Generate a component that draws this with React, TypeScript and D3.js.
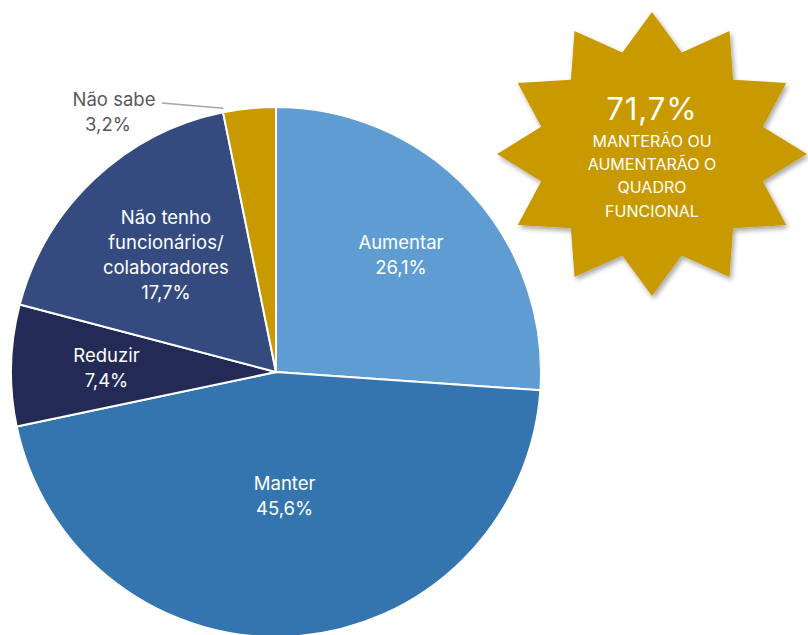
import React from "react";
import * as d3 from "d3";

const categories = ["Aumentar", "Manter", "Reduzir", "Não tenho funcionários/ colaboradores", "Não sabe"];
const labelLines = [["Aumentar"], ["Manter"], ["Reduzir"], ["Não tenho", "funcionários/", "colaboradores"], ["Não sabe"]];
const values = [26.1, 45.6, 7.4, 17.7, 3.2];
const colors = ["#5F9CD1", "#3475B0", "#232A55", "#354B80", "#C99A00"];
const starValue = "71,7%";
const starLines = ["MANTERÃO OU", "AUMENTARÃO O", "QUADRO", "FUNCIONAL"];

const W = 808;
const H = 635;
const FONT = "Inter, 'Open Sans', sans-serif";

const fmt = (v: number) => v.toFixed(1).replace(".", ",") + "%";

export default function App() {
  const cx = 276;
  const cy = 372;
  const R = 265;
  const pie = d3.pie<number>().sort(null).value((d) => d).startAngle(0).endAngle(2 * Math.PI);
  const arcs = pie(values);
  const arc = d3.arc<d3.PieArcDatum<number>>().innerRadius(0).outerRadius(R);
  const labelFactor = [0.645, 0.47, 0.64, 0.605, 0];

  // star
  const sx = 652, sy = 154, rx = 155, ry = 142, inner = 0.74, nPts = 12;
  const starPts: [number, number][] = [];
  for (let i = 0; i < nPts * 2; i++) {
    const a = (i * Math.PI) / nPts;
    const f = i % 2 === 0 ? 1 : inner;
    starPts.push([sx + Math.sin(a) * rx * f, sy - Math.cos(a) * ry * f]);
  }
  const starPath = d3.line()(starPts) + "Z";

  const last = arcs[4];
  const lastMid = (last.startAngle + last.endAngle) / 2;
  const edge: [number, number] = [cx + Math.sin(lastMid) * R, cy - Math.cos(lastMid) * R];

  return (
    <svg width={W} height={H} style={{ position: "absolute", left: 0, top: 0, background: "#fff" }} fontFamily={FONT}>
      <defs>
        <filter id="sh" x="-20%" y="-20%" width="140%" height="140%">
          <feDropShadow dx="2" dy="3" stdDeviation="2.5" floodColor="#000" floodOpacity="0.35" />
        </filter>
      </defs>
      <g transform={`translate(${cx},${cy})`}>
        {arcs.map((a, i) => (
          <path key={i} d={arc(a) || ""} fill={colors[i]} stroke="#fff" strokeWidth={2} />
        ))}
        {arcs.map((a, i) => {
          if (i === 4) return null;
          const mid = (a.startAngle + a.endAngle) / 2;
          const r = R * labelFactor[i];
          const x = Math.sin(mid) * r;
          const y = -Math.cos(mid) * r;
          const lines = [...labelLines[i], fmt(values[i])];
          const lh = 25;
          const y0 = y - ((lines.length - 1) * lh) / 2;
          return (
            <text key={i} textAnchor="middle" fill="#fff" fontSize={18.5}>
              {lines.map((l, j) => (
                <tspan key={j} x={x} y={y0 + j * lh} dy="0.35em">{l}</tspan>
              ))}
            </text>
          );
        })}
      </g>
      <line x1={edge[0] - 26} y1={edge[1]} x2={162} y2={103} stroke="#A6A6A6" strokeWidth={1.5} />
      <text textAnchor="middle" fill="#595959" fontSize={18.5}>
        <tspan x={114} y={100} dy="0.35em">{labelLines[4][0]}</tspan>
        <tspan x={108} y={125} dy="0.35em">{fmt(values[4])}</tspan>
      </text>
      <path d={starPath} fill="#C99A00" filter="url(#sh)" />
      <text textAnchor="middle" fill="#fff" fontSize={31} letterSpacing={1} x={sx} y={109} dy="0.35em">{starValue}</text>
      <text textAnchor="middle" fill="#fff" fontSize={16}>
        {starLines.map((l, j) => (
          <tspan key={j} x={sx} y={141 + j * 23.3} dy="0.35em">{l}</tspan>
        ))}
      </text>
    </svg>
  );
}
